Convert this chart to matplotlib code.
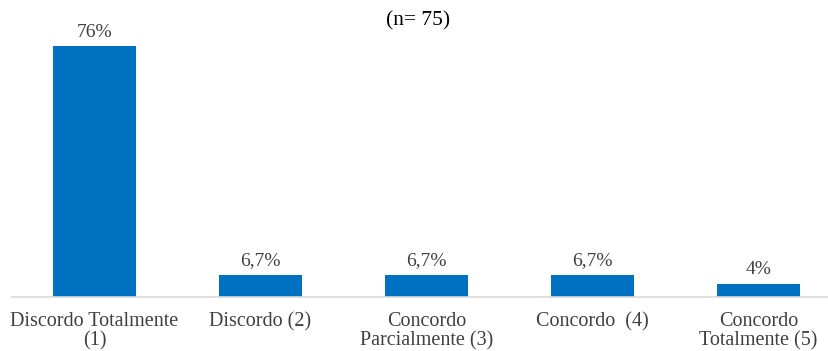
import matplotlib
matplotlib.use("Agg")
import matplotlib.pyplot as plt

categories = ["Discordo Totalmente\n(1)", "Discordo (2)", "Concordo\nParcialmente (3)",
              "Concordo  (4)", "Concordo\nTotalmente (5)"]
values = [76, 6.7, 6.7, 6.7, 4]
labels = ["76%", "6,7%", "6,7%", "6,7%", "4%"]

plt.rcParams['font.family'] = ['Liberation Serif', 'DejaVu Serif']

W, H = 829, 351
fig = plt.figure(figsize=(W / 100, H / 100), dpi=100)
ax = fig.add_axes([11.5 / W, (H - 297) / H, 830 / W, 264 / H])

x = range(len(categories))
ax.bar(x, values, width=0.5, color="#0070C0", zorder=2)
for xi, v, lab in zip(x, values, labels):
    ax.annotate(lab, (xi, v), xytext=(0, 4), textcoords="offset points",
                ha="center", va="bottom", fontsize=14, color="#404040")

ax.set_xlim(-0.5, 4.5)
ax.set_ylim(0, 80)
ax.set_xticks(list(x))
ax.set_xticklabels(categories, fontsize=14.5, color="#404040", linespacing=1.0, va="top")
ax.tick_params(axis="x", length=0, pad=11)
ax.set_yticks([])
for s in ["top", "right", "left"]:
    ax.spines[s].set_visible(False)
ax.spines["bottom"].set_color("#D9D9D9")
ax.spines["bottom"].set_linewidth(1.2)

fig.text(418.5 / W, 1 - 21 / H, "(n= 75)", ha="center", va="center", fontsize=15.5, color="black")

fig.savefig("out.png", dpi=100)
